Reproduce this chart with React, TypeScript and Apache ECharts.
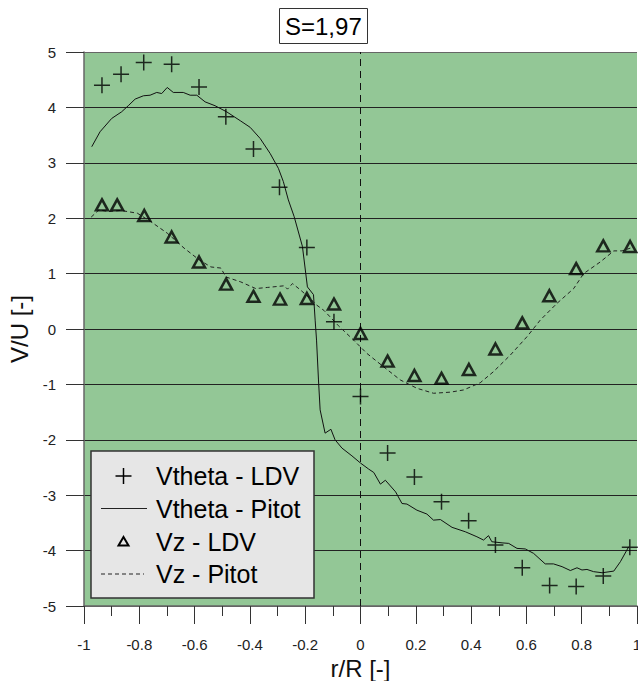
import React, { useEffect, useRef } from "react";
import * as echarts from "echarts";

// Radial position r/R and normalised velocity V/U
const vthetaLdvR = [-0.935, -0.866, -0.784, -0.683, -0.584, -0.487, -0.387, -0.293, -0.194, -0.096, 0.0, 0.098, 0.195, 0.293, 0.391, 0.488, 0.585, 0.684, 0.78, 0.878, 0.974];
const vthetaLdvV = [4.4, 4.6, 4.81, 4.78, 4.37, 3.83, 3.25, 2.56, 1.47, 0.13, -1.22, -2.24, -2.67, -3.12, -3.46, -3.9, -4.31, -4.63, -4.65, -4.46, -3.94];

const vzLdvR = [-0.935, -0.88, -0.782, -0.683, -0.584, -0.486, -0.387, -0.291, -0.194, -0.096, 0.0, 0.098, 0.195, 0.293, 0.392, 0.488, 0.585, 0.683, 0.78, 0.878, 0.975];
const vzLdvV = [2.24, 2.24, 2.05, 1.66, 1.21, 0.81, 0.59, 0.54, 0.55, 0.45, -0.08, -0.58, -0.84, -0.89, -0.73, -0.36, 0.11, 0.6, 1.09, 1.5, 1.49];

const vthetaPitotR = [-0.972, -0.942, -0.9, -0.864, -0.84, -0.815, -0.785, -0.761, -0.737, -0.719, -0.699, -0.677, -0.641, -0.616, -0.592, -0.562, -0.526, -0.484, -0.435, -0.399, -0.363, -0.327, -0.297, -0.279, -0.261, -0.24, -0.21, -0.192, -0.17, -0.164, -0.159, -0.152, -0.146, -0.128, -0.107, -0.092, -0.067, -0.031, 0.0, 0.03, 0.048, 0.072, 0.09, 0.127, 0.15, 0.168, 0.204, 0.24, 0.264, 0.289, 0.331, 0.379, 0.421, 0.445, 0.463, 0.475, 0.512, 0.536, 0.566, 0.596, 0.626, 0.668, 0.698, 0.729, 0.759, 0.783, 0.801, 0.819, 0.843, 0.874, 0.916, 0.94, 0.97];
const vthetaPitotV = [3.29, 3.56, 3.8, 3.92, 4.03, 4.15, 4.21, 4.22, 4.27, 4.25, 4.36, 4.27, 4.27, 4.22, 4.22, 4.1, 4.03, 3.92, 3.76, 3.64, 3.44, 3.17, 2.9, 2.66, 2.33, 2.03, 1.49, 0.76, 0.62, 0.16, -0.2, -0.92, -1.46, -1.88, -1.81, -2.0, -2.15, -2.29, -2.42, -2.53, -2.59, -2.8, -2.73, -2.94, -3.15, -3.16, -3.27, -3.34, -3.45, -3.44, -3.58, -3.66, -3.75, -3.81, -3.73, -3.84, -3.86, -3.87, -3.96, -3.97, -4.05, -4.24, -4.24, -4.29, -4.36, -4.31, -4.35, -4.34, -4.38, -4.4, -4.37, -4.2, -3.93];

const vzPitotR = [-0.974, -0.946, -0.91, -0.867, -0.807, -0.759, -0.699, -0.638, -0.584, -0.541, -0.505, -0.487, -0.433, -0.379, -0.337, -0.276, -0.264, -0.246, -0.216, -0.182, -0.158, -0.131, -0.08, -0.025, 0.023, 0.083, 0.144, 0.204, 0.264, 0.325, 0.373, 0.433, 0.481, 0.542, 0.602, 0.65, 0.71, 0.771, 0.807, 0.867, 0.916, 0.946, 0.976];
const vzPitotV = [2.02, 2.15, 2.12, 2.14, 2.09, 1.94, 1.73, 1.46, 1.25, 1.12, 1.1, 0.94, 0.85, 0.73, 0.75, 0.78, 0.72, 0.82, 0.7, 0.55, 0.43, 0.33, 0.06, -0.2, -0.44, -0.68, -0.92, -1.07, -1.16, -1.14, -1.1, -0.97, -0.77, -0.47, -0.14, 0.16, 0.46, 0.73, 1.0, 1.21, 1.41, 1.41, 1.46];

const seriesNames = ["Vtheta - LDV", "Vtheta - Pitot", "Vz - LDV", "Vz - Pitot"];
const titleText = "S=1,97";
const xName = "r/R [-]";
const yName = "V/U [-]";

const FONT = "'Liberation Sans', Arial, Helvetica, sans-serif";

const zip = (xs: number[], ys: number[]) => xs.map((x, i) => [x, ys[i]]);

function legendGraphic() {
  const bx = 91, by = 451, bw = 223, bh = 147;
  const rows = [476, 508.5, 541.5, 574];
  const iconCx = 123.5;
  const textX = 156;
  const els: any[] = [
    {
      type: "rect",
      shape: { x: bx, y: by, width: bw, height: bh },
      style: { fill: "#e6e6e6", stroke: "#333", lineWidth: 1.5 },
      z: 100,
    },
    // plus sample
    { type: "line", shape: { x1: iconCx - 8, y1: rows[0], x2: iconCx + 8, y2: rows[0] }, style: { stroke: "#000", lineWidth: 1.5 }, z: 101 },
    { type: "line", shape: { x1: iconCx, y1: rows[0] - 8, x2: iconCx, y2: rows[0] + 8 }, style: { stroke: "#000", lineWidth: 1.5 }, z: 101 },
    // solid line sample
    { type: "line", shape: { x1: 101, y1: rows[1], x2: 147, y2: rows[1] }, style: { stroke: "#222", lineWidth: 1 }, z: 101 },
    // triangle sample
    {
      type: "polygon",
      shape: { points: [[iconCx, rows[2] - 4.5], [iconCx + 5, rows[2] + 4], [iconCx - 5, rows[2] + 4]] },
      style: { fill: "none", stroke: "#000", lineWidth: 2 },
      z: 101,
    },
    // dashed line sample
    { type: "line", shape: { x1: 101, y1: rows[3], x2: 144, y2: rows[3] }, style: { stroke: "#222", lineWidth: 1, lineDash: [4, 3] }, z: 101 },
  ];
  seriesNames.forEach((name, i) => {
    els.push({
      type: "text",
      x: textX,
      y: rows[i],
      style: { text: name, fontSize: 25, fontFamily: FONT, fill: "#000", verticalAlign: "middle", align: "left" },
      z: 101,
    });
  });
  return els;
}

export default function App() {
  const ref = useRef<HTMLDivElement>(null);

  useEffect(() => {
    if (!ref.current) return;
    const chart = echarts.init(ref.current, undefined, { renderer: "svg" });
    const splitColors = Array.from({ length: 11 }, (_, i) => (i === 0 || i === 10 ? "#666" : "#222"));
    chart.setOption({
      animation: false,
      backgroundColor: "#ffffff",
      textStyle: { fontFamily: FONT },
      title: {
        text: titleText,
        left: 279,
        top: 8,
        padding: [4, 6],
        borderColor: "#333",
        borderWidth: 1,
        backgroundColor: "#fff",
        textStyle: { fontSize: 24, fontWeight: "normal", color: "#000", fontFamily: FONT, lineHeight: 28 },
      },
      grid: {
        left: 84,
        right: 1,
        top: 52,
        bottom: 75,
        outerBoundsMode: "none",
        containLabel: false,
        show: true,
        backgroundColor: "#93c796",
        borderWidth: 0,
      },
      xAxis: {
        type: "value",
        min: -1,
        max: 1,
        interval: 0.2,
        name: xName,
        nameLocation: "middle",
        nameGap: 48,
        nameTextStyle: { fontSize: 24, color: "#111", fontFamily: FONT },
        axisLine: { show: true, onZero: false, lineStyle: { color: "#666", width: 1.5 } },
        axisTick: { show: true, length: 18, lineStyle: { color: "#333", width: 1 } },
        minorTick: { show: true, splitNumber: 2, length: 10, lineStyle: { color: "#333", width: 1 } },
        axisLabel: { fontSize: 15, color: "#222", margin: 31, fontFamily: FONT, hideOverlap: false },
        splitLine: { show: false },
        minorSplitLine: { show: false },
      },
      yAxis: {
        type: "value",
        min: -5,
        max: 5,
        interval: 1,
        name: yName,
        nameLocation: "middle",
        nameGap: 50,
        nameTextStyle: { fontSize: 24, color: "#111", fontFamily: FONT },
        axisLine: { show: true, onZero: false, lineStyle: { color: "#666", width: 1.5 } },
        axisTick: { show: true, length: 18, lineStyle: { color: "#333", width: 1 } },
        axisLabel: { fontSize: 15, color: "#222", margin: 28, fontFamily: FONT },
        splitLine: { show: true, lineStyle: { color: splitColors, width: 1 } },
      },
      series: [
        {
          name: seriesNames[0],
          type: "scatter",
          data: zip(vthetaLdvR, vthetaLdvV),
          symbol: "path://M0,8L16,8M8,0L8,16",
          symbolSize: 16,
          itemStyle: { color: "transparent", borderColor: "#000", borderWidth: 1.5 },
          z: 5,
        },
        {
          name: seriesNames[1],
          type: "line",
          data: zip(vthetaPitotR, vthetaPitotV),
          symbol: "none",
          lineStyle: { color: "#111", width: 1 },
          z: 4,
        },
        {
          name: seriesNames[2],
          type: "scatter",
          data: zip(vzLdvR, vzLdvV),
          symbol: "triangle",
          symbolSize: [12, 11],
          itemStyle: { color: "transparent", borderColor: "#000", borderWidth: 2.5 },
          z: 5,
        },
        {
          name: seriesNames[3],
          type: "line",
          data: zip(vzPitotR, vzPitotV),
          symbol: "none",
          lineStyle: { color: "#222", width: 1, type: [4, 3] },
          z: 4,
          markLine: {
            silent: true,
            symbol: "none",
            label: { show: false },
            lineStyle: { color: "#111", width: 1, type: [7, 5] },
            data: [{ xAxis: 0 }],
          },
        },
      ],
      graphic: legendGraphic(),
    });
    return () => chart.dispose();
  }, []);

  return <div ref={ref} style={{ position: "absolute", left: 0, top: 0, width: 638, height: 681 }} />;
}
